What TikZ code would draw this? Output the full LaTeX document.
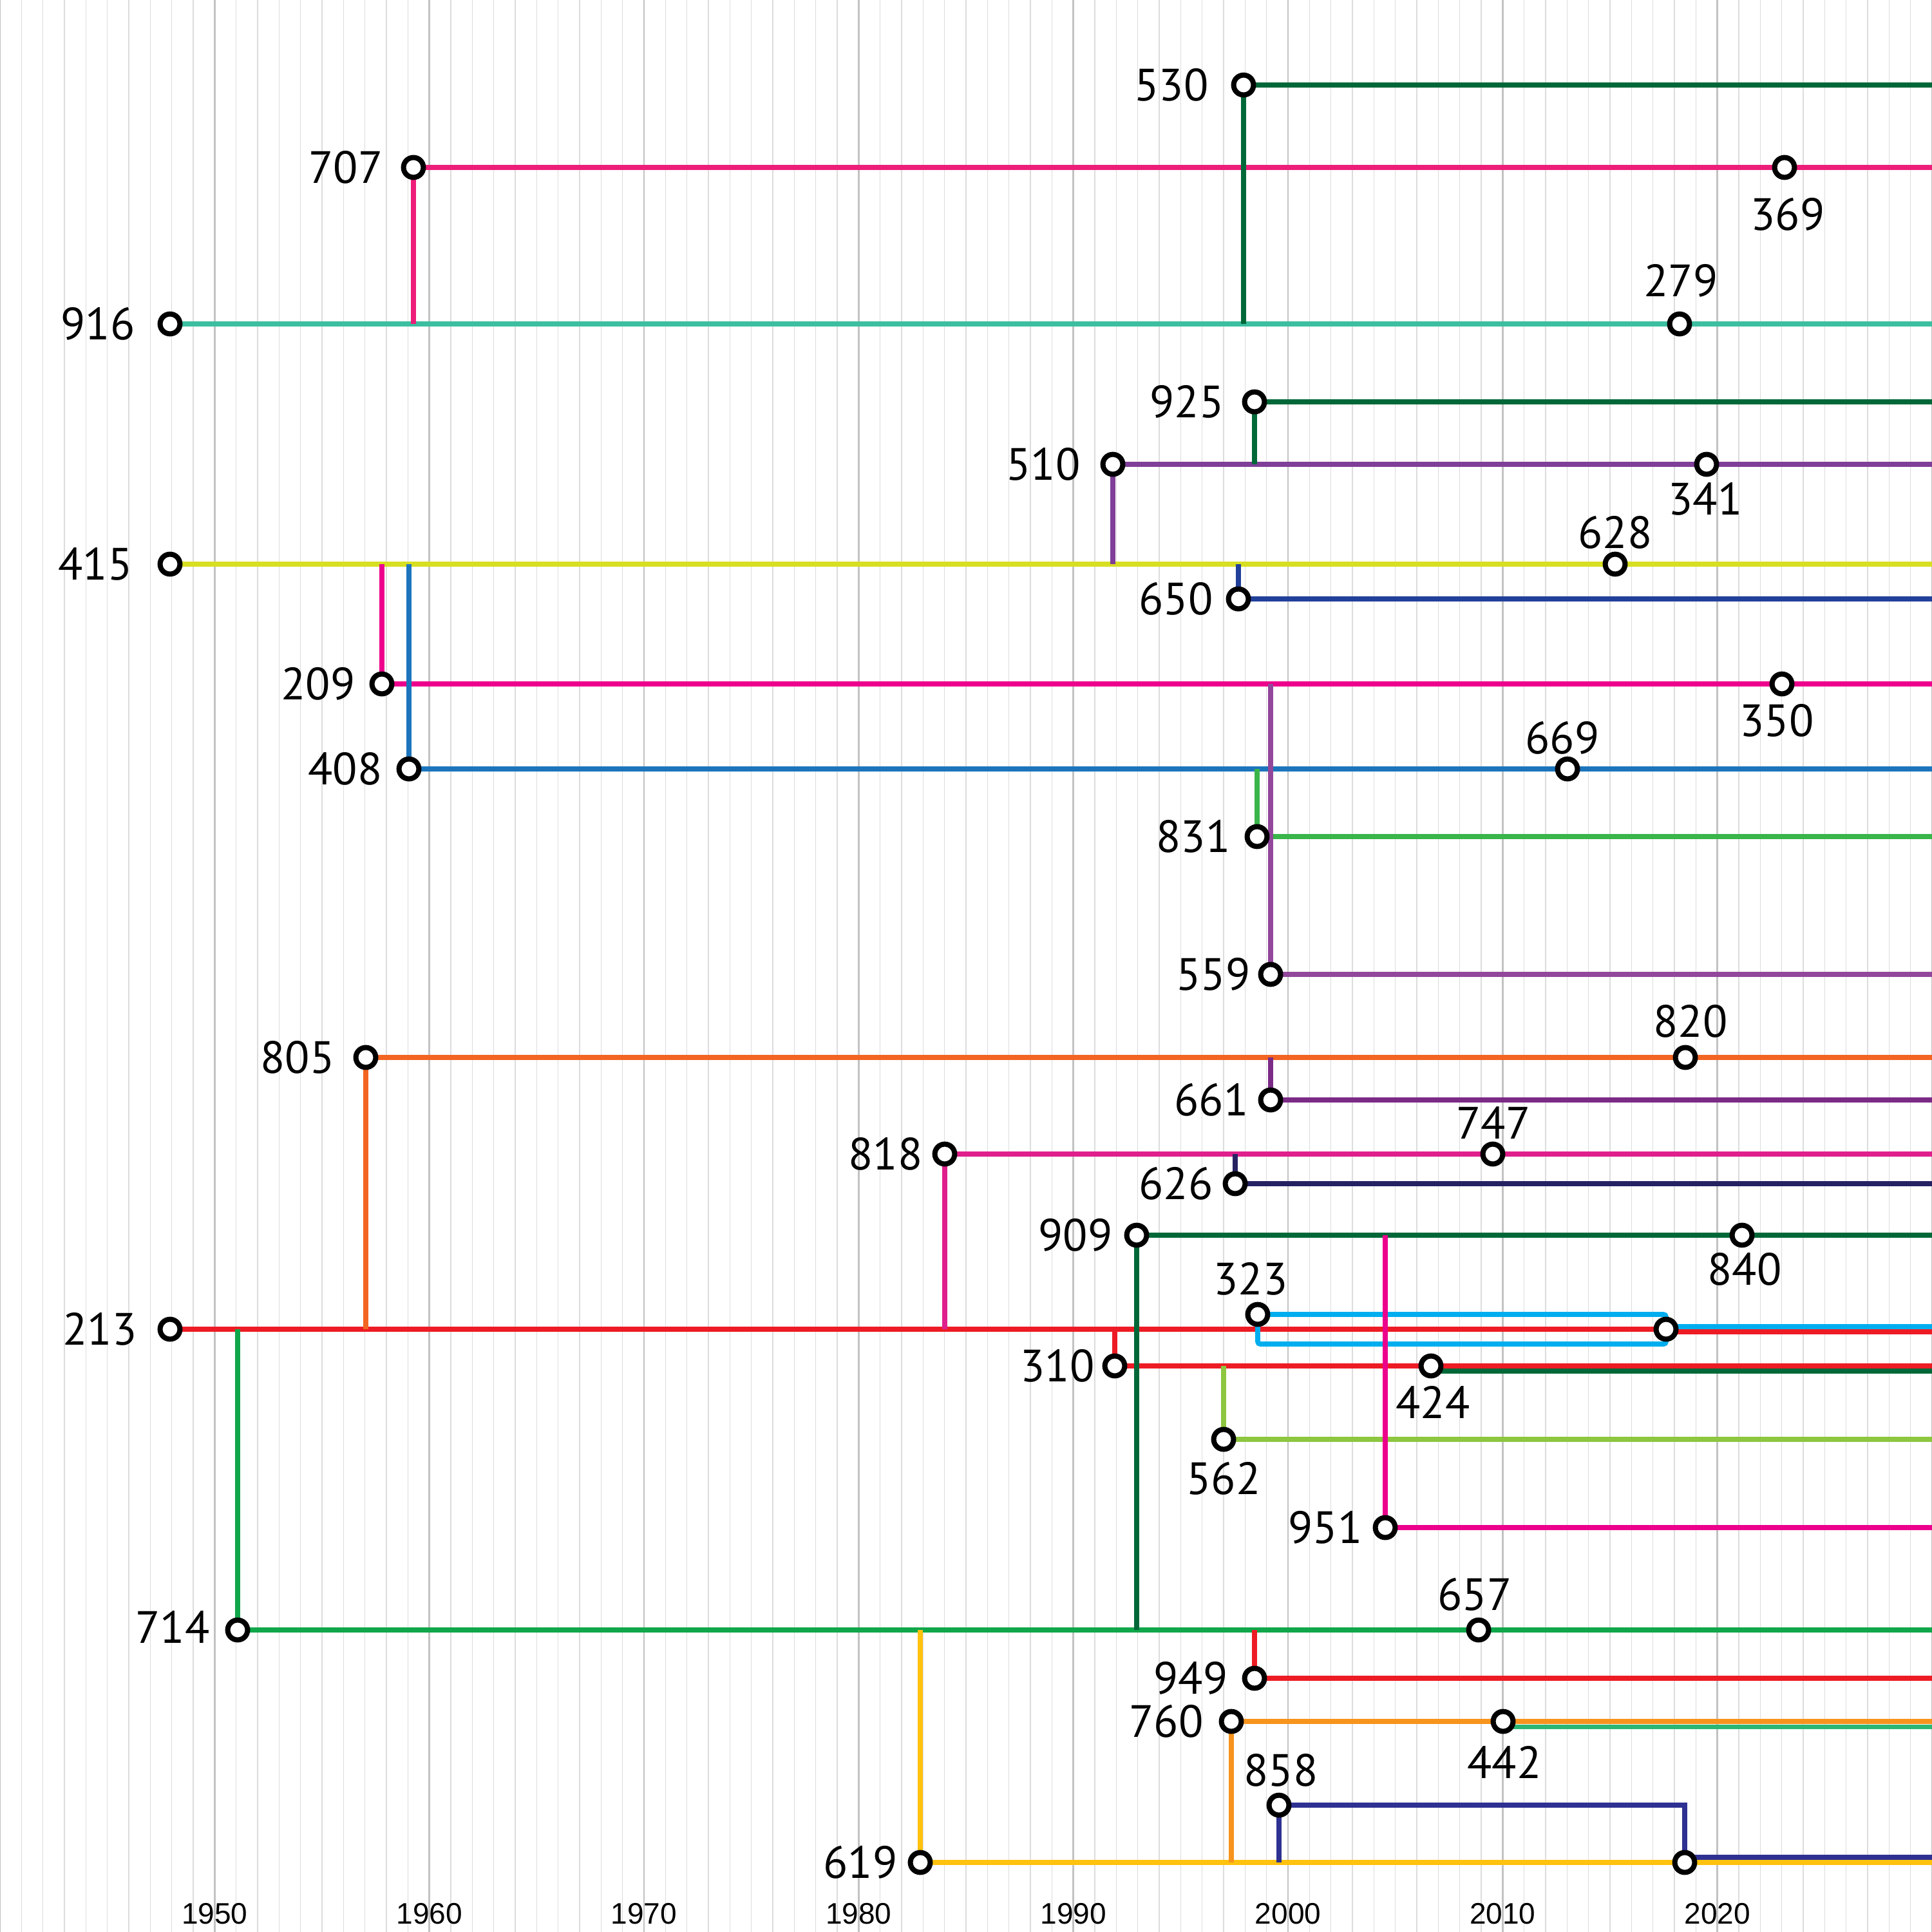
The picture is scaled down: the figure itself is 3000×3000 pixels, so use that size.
\documentclass[tikz,border=0pt]{standalone}
\usepackage{fontspec}
\newfontfamily\lblfont{PT Sans}
\newfontfamily\axfont{Liberation Sans}
\pgfdeclarelayer{grid}
\pgfdeclarelayer{lines}
\pgfsetlayers{grid,lines,main}
\definecolor{cdkgreen}{HTML}{006838}
\definecolor{cpink}{HTML}{ED1E79}
\definecolor{cteal}{HTML}{3CBFA0}
\definecolor{cpurple}{HTML}{7F3F98}
\definecolor{cyellowgreen}{HTML}{D7DF23}
\definecolor{croyal}{HTML}{21409A}
\definecolor{cmagenta}{HTML}{EC008C}
\definecolor{cblue}{HTML}{1C75BC}
\definecolor{cgreen}{HTML}{39B54A}
\definecolor{cltpurple}{HTML}{92479B}
\definecolor{corange}{HTML}{F26522}
\definecolor{cdkpurple}{HTML}{7B2B86}
\definecolor{crose}{HTML}{DF1F8C}
\definecolor{cnavy}{HTML}{262262}
\definecolor{cred}{HTML}{ED1C24}
\definecolor{ccyan}{HTML}{00AEEF}
\definecolor{clime}{HTML}{8DC63F}
\definecolor{cemerald}{HTML}{10A64A}
\definecolor{camber}{HTML}{F7941D}
\definecolor{cjade}{HTML}{2BB673}
\definecolor{cindigo}{HTML}{2E3192}
\definecolor{cgold}{HTML}{FFC20E}
\definecolor{gminor}{HTML}{DCDCDC}
\definecolor{gmajor}{HTML}{C2C2C2}
\tikzset{
  station/.style={circle, draw=black, fill=white, line width=0.08cm, minimum size=0.308cm, inner sep=0pt},
  rail/.style={line width=0.078cm},
  lbl/.style={font=\lblfont\fontsize{20pt}{20pt}\selectfont, inner sep=0pt, text=black},
  axlbl/.style={font=\axfont\fontsize{13.1pt}{13pt}\selectfont, inner sep=0pt, text=black},
  gridminor/.style={draw=gminor, line width=0.015cm},
  gridmajor/.style={draw=gmajor, line width=0.025cm}
}
\begin{document}
\begin{tikzpicture}[x=0.01cm,y=-0.01cm]
\useasboundingbox (0,0) rectangle (3000,3000);
\coordinate (R) at (3000,0);
% grid
\begin{pgfonlayer}{grid}
\fill[white] (0,0) rectangle (3000,3000);
\foreach \i in {0,...,90} \draw[gridminor] ({\i*100/3},0) -- ({\i*100/3},3000);
\foreach \i in {0,...,9} \draw[gridmajor] ({\i*1000/3},0) -- ({\i*1000/3},3000);
\end{pgfonlayer}
\foreach \yr [count=\k from 1] in {1950,1960,...,2020}
  \node[axlbl] (ax\yr) at ({\k*1000/3},2972) {\yr};
% stations
\node[station] (n530) at (1931,132) {};
\node[station] (n707) at (642,260) {};
\node[station] (n369) at (2771,260) {};
\node[station] (n916) at (264,503) {};
\node[station] (n279) at (2608,503) {};
\node[station] (n925) at (1948,624) {};
\node[station] (n510) at (1728,721) {};
\node[station] (n341) at (2650,721) {};
\node[station] (n415) at (264,876) {};
\node[station] (n628) at (2508,876) {};
\node[station] (n650) at (1923,930) {};
\node[station] (n209) at (593,1062) {};
\node[station] (n350) at (2767,1062) {};
\node[station] (n408) at (635,1194) {};
\node[station] (n669) at (2434,1194) {};
\node[station] (n831) at (1952,1299) {};
\node[station] (n559) at (1973,1513) {};
\node[station] (n805) at (568,1642) {};
\node[station] (n820) at (2617,1642) {};
\node[station] (n661) at (1973,1708) {};
\node[station] (n818) at (1467,1792) {};
\node[station] (n747) at (2318,1792) {};
\node[station] (n626) at (1918,1838) {};
\node[station] (n909) at (1765,1918) {};
\node[station] (n840) at (2705,1918) {};
\node[station] (n323) at (1953,2041) {};
\node[station] (n213) at (264,2064) {};
\node[station] (nA) at (2587,2064) {};
\node[station] (n310) at (1731,2121) {};
\node[station] (n424) at (2222,2121) {};
\node[station] (n562) at (1900,2235) {};
\node[station] (n951) at (2151,2372) {};
\node[station] (n714) at (369,2531) {};
\node[station] (n657) at (2296,2531) {};
\node[station] (n949) at (1948,2606) {};
\node[station] (n760) at (1912,2673) {};
\node[station] (n442) at (2334,2673) {};
\node[station] (n858) at (1986,2803) {};
\node[station] (n619) at (1429,2892) {};
\node[station] (nB) at (2616,2892) {};
% labels
\node[lbl] (t530) at (1819,132) {530};
\node[lbl] (t707) at (537,260) {707};
\node[lbl] (t369) at (2776,333) {369};
\node[lbl] (t916) at (152,503) {916};
\node[lbl] (t279) at (2610,436) {279};
\node[lbl] (t925) at (1843,624) {925};
\node[lbl] (t510) at (1620,721) {510};
\node[lbl] (t341) at (2648,775) {341};
\node[lbl] (t415) at (148,876) {415};
\node[lbl] (t628) at (2508,827) {628};
\node[lbl] (t650) at (1826,930) {650};
\node[lbl] (t209) at (494,1062) {209};
\node[lbl] (t350) at (2759,1119) {350};
\node[lbl] (t408) at (536,1194) {408};
\node[lbl] (t669) at (2426,1146) {669};
\node[lbl] (t831) at (1853,1299) {831};
\node[lbl] (t559) at (1884,1513) {559};
\node[lbl] (t805) at (462,1642) {805};
\node[lbl] (t820) at (2625,1586) {820};
\node[lbl] (t661) at (1881,1708) {661};
\node[lbl] (t818) at (1375,1792) {818};
\node[lbl] (t747) at (2319,1743) {747};
\node[lbl] (t626) at (1826,1838) {626};
\node[lbl] (t909) at (1670,1918) {909};
\node[lbl] (t840) at (2709,1971) {840};
\node[lbl] (t323) at (1942,1986) {323};
\node[lbl] (t213) at (155,2064) {213};
\node[lbl] (t310) at (1642,2121) {310};
\node[lbl] (t424) at (2225,2177) {424};
\node[lbl] (t562) at (1900,2296) {562};
\node[lbl] (t951) at (2058,2372) {951};
\node[lbl] (t714) at (268,2526) {714};
\node[lbl] (t657) at (2290,2476) {657};
\node[lbl] (t949) at (1849,2606) {949};
\node[lbl] (t760) at (1811,2673) {760};
\node[lbl] (t442) at (2336,2736) {442};
\node[lbl] (t858) at (1989,2749) {858};
\node[lbl] (t619) at (1336,2892) {619};
% lines
\begin{pgfonlayer}{lines}
% horizontal runs
\draw[rail,cdkgreen] (n530.center) -- (n530.center -| R);
\draw[rail,cpink] (n707.center) -- (n707.center -| R);
\draw[rail,cteal] (n916.center) -- (n916.center -| R);
\draw[rail,cdkgreen] (n925.center) -- (n925.center -| R);
\draw[rail,cpurple] (n510.center) -- (n510.center -| R);
\draw[rail,cyellowgreen] (n415.center) -- (n415.center -| R);
\draw[rail,croyal] (n650.center) -- (n650.center -| R);
\draw[rail,cmagenta] (n209.center) -- (n209.center -| R);
\draw[rail,cblue] (n408.center) -- (n408.center -| R);
\draw[rail,cgreen] (n831.center) -- (n831.center -| R);
\draw[rail,cltpurple] (n559.center) -- (n559.center -| R);
\draw[rail,corange] (n805.center) -- (n805.center -| R);
\draw[rail,cdkpurple] (n661.center) -- (n661.center -| R);
\draw[rail,crose] (n818.center) -- (n818.center -| R);
\draw[rail,cnavy] (n626.center) -- (n626.center -| R);
\draw[rail,cdkgreen] (n909.center) -- (n909.center -| R);
\draw[rail,cred] (n213.center) -- (nA.center);
\draw[rail,cred] ([yshift=-0.04cm]nA.center) -- ([yshift=-0.04cm]nA.center -| R);
\draw[rail,ccyan] ([yshift=0.04cm]nA.center) -- ([yshift=0.04cm]nA.center -| R);
\draw[rail,ccyan,rounded corners=0.04cm] (n323.center) -- (n323.center -| nA) -- (nA.center);
\draw[rail,ccyan,rounded corners=0.04cm] (n323.center) -- ([yshift=-0.46cm]n323.center) -- ([yshift=-0.46cm]n323.center -| nA) -- (nA.center);
\draw[rail,cred] (n310.center) -- (n310.center -| R);
\draw[rail,cdkgreen] ([yshift=-0.08cm]n424.center) -- ([yshift=-0.08cm]n424.center -| R);
\draw[rail,clime] (n562.center) -- (n562.center -| R);
\draw[rail,cmagenta] (n951.center) -- (n951.center -| R);
\draw[rail,cemerald] (n714.center) -- (n714.center -| R);
\draw[rail,cred] (n949.center) -- (n949.center -| R);
\draw[rail,camber] (n760.center) -- (n760.center -| R);
\draw[rail,cjade] ([yshift=-0.085cm]n442.center) -- ([yshift=-0.085cm]n442.center -| R);
\draw[rail,cgold] (n619.center) -- (n619.center -| R);
\draw[rail,cindigo] (n858.center) -- (n858.center -| nB) -- (nB.center);
\draw[rail,cindigo] ([yshift=0.08cm]nB.center) -- ([yshift=0.08cm]nB.center -| R);
% vertical branches
\draw[rail,cdkgreen] (n530 |- n916) -- (n530.center);
\draw[rail,cpink] (n707 |- n916) -- (n707.center);
\draw[rail,cdkgreen] (n925 |- n510) -- (n925.center);
\draw[rail,cpurple] (n510 |- n415) -- (n510.center);
\draw[rail,croyal] (n650 |- n415) -- (n650.center);
\draw[rail,cmagenta] (n209 |- n415) -- (n209.center);
\draw[rail,cblue] (n408 |- n415) -- (n408.center);
\draw[rail,cgreen] (n831 |- n408) -- (n831.center);
\draw[rail,cltpurple] (n559 |- n209) -- (n559.center);
\draw[rail,cdkpurple] (n661 |- n805) -- (n661.center);
\draw[rail,corange] (n805 |- n213) -- (n805.center);
\draw[rail,crose] (n818 |- n213) -- (n818.center);
\draw[rail,cnavy] (n626 |- n818) -- (n626.center);
\draw[rail,cdkgreen] (n909 |- n714) -- (n909.center);
\draw[rail,cemerald] (n714 |- n213) -- (n714.center);
\draw[rail,cred] (n310 |- n213) -- (n310.center);
\draw[rail,clime] (n562 |- n310) -- (n562.center);
\draw[rail,cred] (n949 |- n714) -- (n949.center);
\draw[rail,camber] (n760 |- n619) -- (n760.center);
\draw[rail,cindigo] (n858 |- n619) -- (n858.center);
\draw[rail,cgold] (n619 |- n714) -- (n619.center);
\draw[rail,cmagenta] (n951 |- n909) -- (n951.center);
\end{pgfonlayer}
\end{tikzpicture}
\end{document}
